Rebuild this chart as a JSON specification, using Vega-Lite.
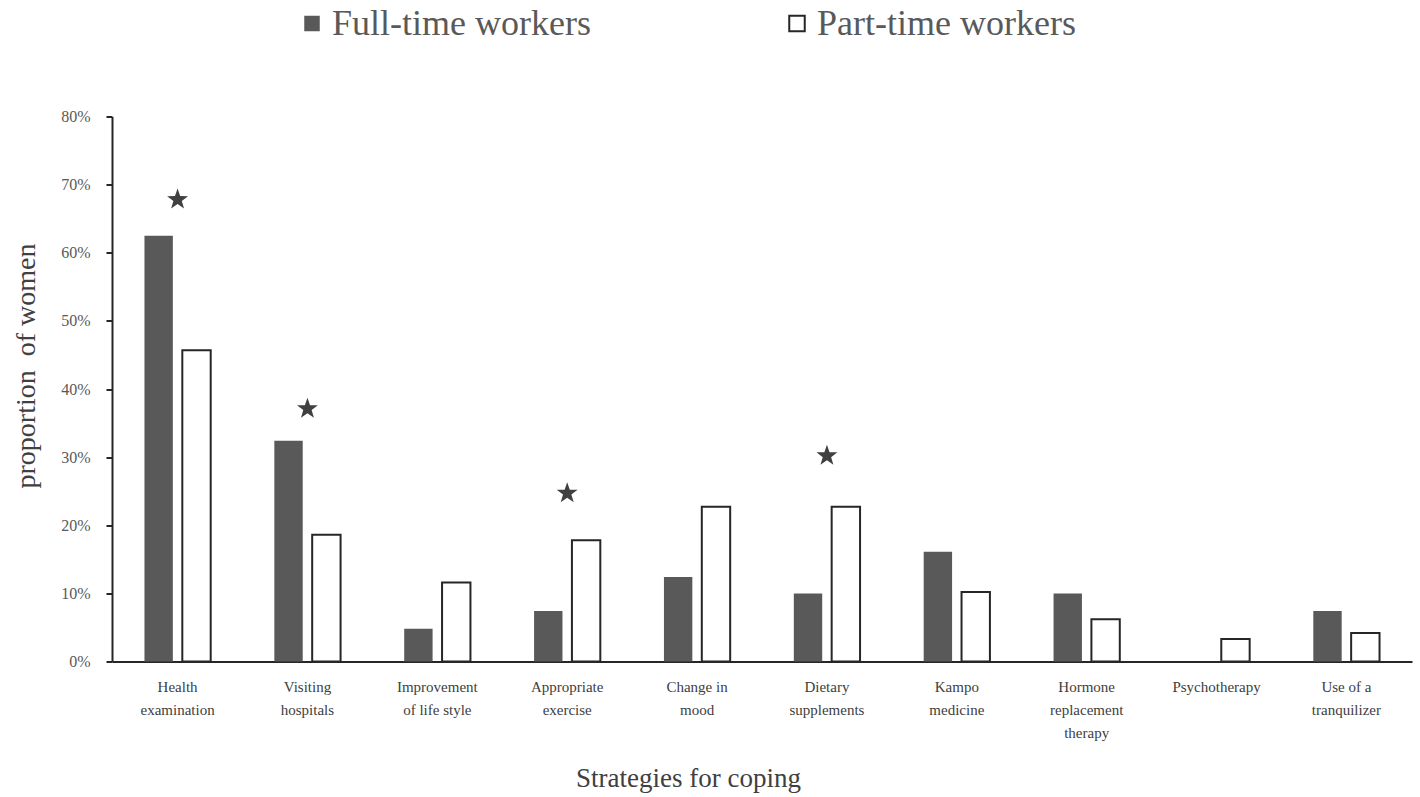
{
  "$schema": "https://vega.github.io/schema/vega-lite/v6.json",
  "width": 1300,
  "height": 545,
  "autosize": "none",
  "padding": {"left": 112, "top": 116.5, "right": 8, "bottom": 135.5},
  "background": "white",
  "config": {"view": {"stroke": null}, "font": "Liberation Serif"},
  "datasets": {
    "bars": [
      {"strategy": "Health examination", "group": "Full-time workers", "value": 62.5},
      {"strategy": "Health examination", "group": "Part-time workers", "value": 45.7},
      {"strategy": "Visiting hospitals", "group": "Full-time workers", "value": 32.4},
      {"strategy": "Visiting hospitals", "group": "Part-time workers", "value": 18.6},
      {"strategy": "Improvement of life style", "group": "Full-time workers", "value": 4.8},
      {"strategy": "Improvement of life style", "group": "Part-time workers", "value": 11.6},
      {"strategy": "Appropriate exercise", "group": "Full-time workers", "value": 7.4},
      {"strategy": "Appropriate exercise", "group": "Part-time workers", "value": 17.8},
      {"strategy": "Change in mood", "group": "Full-time workers", "value": 12.4},
      {"strategy": "Change in mood", "group": "Part-time workers", "value": 22.7},
      {"strategy": "Dietary supplements", "group": "Full-time workers", "value": 10.0},
      {"strategy": "Dietary supplements", "group": "Part-time workers", "value": 22.7},
      {"strategy": "Kampo medicine", "group": "Full-time workers", "value": 16.1},
      {"strategy": "Kampo medicine", "group": "Part-time workers", "value": 10.2},
      {"strategy": "Hormone replacement therapy", "group": "Full-time workers", "value": 10.0},
      {"strategy": "Hormone replacement therapy", "group": "Part-time workers", "value": 6.2},
      {"strategy": "Psychotherapy", "group": "Full-time workers", "value": 0},
      {"strategy": "Psychotherapy", "group": "Part-time workers", "value": 3.3},
      {"strategy": "Use of a tranquilizer", "group": "Full-time workers", "value": 7.4},
      {"strategy": "Use of a tranquilizer", "group": "Part-time workers", "value": 4.2}
    ],
    "stars": [
      {"strategy": "Health examination", "value": 67.8},
      {"strategy": "Visiting hospitals", "value": 37.1},
      {"strategy": "Appropriate exercise", "value": 24.7},
      {"strategy": "Dietary supplements", "value": 30.2}
    ]
  },
  "layer": [
    {
      "data": {"name": "bars"},
      "mark": {"type": "bar", "strokeWidth": 2},
      "encoding": {
        "x": {
          "field": "strategy",
          "type": "nominal",
          "sort": ["Health examination", "Visiting hospitals", "Improvement of life style", "Appropriate exercise", "Change in mood", "Dietary supplements", "Kampo medicine", "Hormone replacement therapy", "Psychotherapy", "Use of a tranquilizer"],
          "scale": {"paddingInner": 0.49, "paddingOuter": 0.25},
          "axis": {
            "title": "Strategies for coping",
            "titleFontSize": 27,
            "titleFontWeight": "normal",
            "titleColor": "#404040",
            "titleX": 576,
            "titleY": 125,
            "titleBaseline": "alphabetic",
            "labelExpr": "{'Health examination':['Health','examination'],'Visiting hospitals':['Visiting','hospitals'],'Improvement of life style':['Improvement','of life style'],'Appropriate exercise':['Appropriate','exercise'],'Change in mood':['Change in','mood'],'Dietary supplements':['Dietary','supplements'],'Kampo medicine':['Kampo','medicine'],'Hormone replacement therapy':['Hormone','replacement','therapy'],'Psychotherapy':'Psychotherapy','Use of a tranquilizer':['Use of a','tranquilizer']}[datum.value]",
            "labelAngle": 0,
            "labelFontSize": 15,
            "labelLineHeight": 23,
            "labelColor": "#404040",
            "labelPadding": 18,
            "labelOverlap": false,
            "labelBound": false,
            "labelLimit": 300,
            "ticks": false,
            "domainColor": "#262626",
            "domainWidth": 2
          }
        },
        "xOffset": {
          "field": "group",
          "type": "nominal",
          "sort": ["Full-time workers", "Part-time workers"],
          "scale": {"paddingInner": 0.25}
        },
        "y": {
          "field": "value",
          "type": "quantitative",
          "scale": {"domain": [0, 80], "nice": false},
          "axis": {
            "title": "proportion\u00a0 of women",
            "titleFontSize": 28,
            "titleFontWeight": "normal",
            "titleColor": "#404040",
            "titlePadding": 20,
            "titleY": 249,
            "values": [0, 10, 20, 30, 40, 50, 60, 70, 80],
            "labelExpr": "datum.value + '%'",
            "labelFontSize": 16,
            "labelColor": "#595959",
            "labelPadding": 16,
            "grid": false,
            "tickSize": 6,
            "tickColor": "#262626",
            "tickWidth": 2,
            "domainColor": "#262626",
            "domainWidth": 2
          }
        },
        "fill": {
          "field": "group",
          "type": "nominal",
          "scale": {"domain": ["Full-time workers", "Part-time workers"], "range": ["#595959", "#ffffff"]},
          "legend": {
            "title": null,
            "orient": "none",
            "legendX": 182,
            "legendY": -111,
            "direction": "horizontal",
            "columnPadding": 188,
            "symbolType": "square",
            "symbolSize": 240,
            "symbolStrokeWidth": 2,
            "labelFontSize": 36,
            "labelColor": "#595959",
            "labelOffset": 2,
            "labelLimit": 500,
            "padding": 0
          }
        },
        "stroke": {
          "field": "group",
          "type": "nominal",
          "scale": {"domain": ["Full-time workers", "Part-time workers"], "range": ["transparent", "#262626"]},
          "legend": {
            "title": null,
            "orient": "none",
            "legendX": 182,
            "legendY": -111,
            "direction": "horizontal",
            "columnPadding": 188,
            "symbolType": "square",
            "symbolSize": 240,
            "symbolStrokeWidth": 2,
            "labelFontSize": 36,
            "labelColor": "#595959",
            "labelOffset": 2,
            "labelLimit": 500,
            "padding": 0
          }
        }
      }
    },
    {
      "data": {"name": "stars"},
      "mark": {
        "type": "point",
        "shape": "M0,-1L0.235,-0.324L0.951,-0.309L0.380,0.124L0.588,0.809L0,0.4L-0.588,0.809L-0.380,0.124L-0.951,-0.309L-0.235,-0.324Z",
        "filled": true,
        "size": 484,
        "color": "#404040",
        "opacity": 1,
        "strokeWidth": 0
      },
      "encoding": {
        "x": {
          "field": "strategy",
          "type": "nominal",
          "sort": ["Health examination", "Visiting hospitals", "Improvement of life style", "Appropriate exercise", "Change in mood", "Dietary supplements", "Kampo medicine", "Hormone replacement therapy", "Psychotherapy", "Use of a tranquilizer"]
        },
        "y": {"field": "value", "type": "quantitative"}
      }
    }
  ]
}
